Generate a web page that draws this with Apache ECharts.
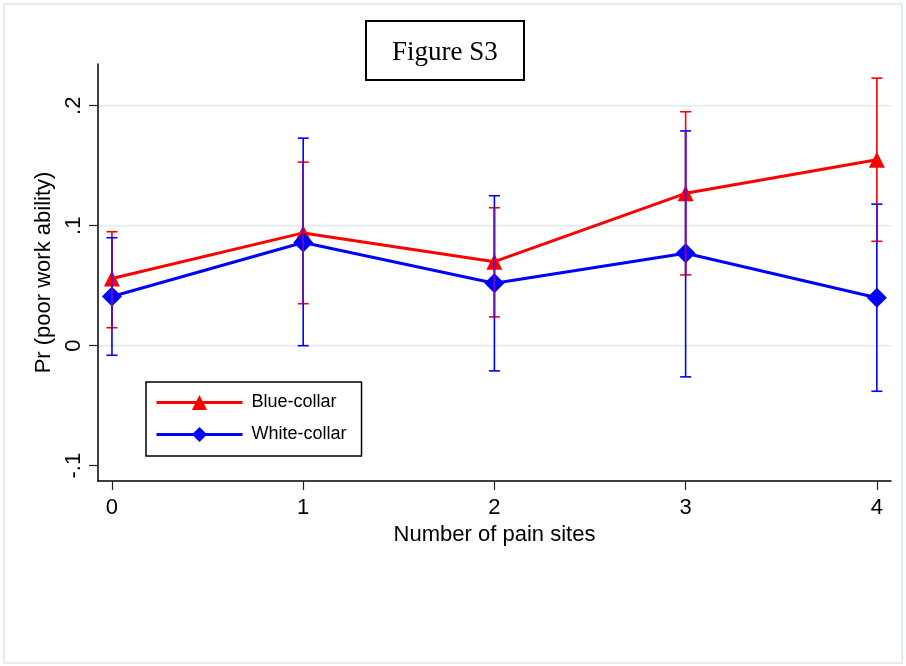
<!DOCTYPE html>
<html><head><meta charset="utf-8">
<script src="https://cdn.jsdelivr.net/npm/echarts@6/dist/echarts.min.js"></script>
<style>html,body{margin:0;padding:0;background:#fff}#chart{width:906px;height:666px}</style>
</head><body><div id="chart"></div>
<script>
// ---- data ----
const painSites = [0, 1, 2, 3, 4];
const xTicks = [0, 1, 2, 3, 4];
const yTicks = [-0.1, 0, 0.1, 0.2];
const yTickLabels = ['-.1', '0', '.1', '.2'];
const gridValues = [0, 0.1, 0.2];

const blueCollar   = [0.056, 0.094, 0.070, 0.127, 0.155];
const blueCollarLo = [0.015, 0.035, 0.024, 0.059, 0.087];
const blueCollarHi = [0.095, 0.153, 0.115, 0.195, 0.223];

const whiteCollar   = [0.041, 0.086, 0.052, 0.077, 0.040];
const whiteCollarLo = [-0.008, 0.000, -0.021, -0.026, -0.038];
const whiteCollarHi = [0.090, 0.173, 0.125, 0.179, 0.118];

const FONT = 'Liberation Sans';
const RED = '#ff0000', BLUE = '#0000ff', MIX = '#6a12b4';

function errRender(color, withOverlap) {
  return function (params, api) {
    const x = api.value(0), lo = api.value(1), hi = api.value(2);
    const a = api.coord([x, lo]), b = api.coord([x, hi]);
    const cap = 5.5;
    const st = { stroke: color, lineWidth: 1.6 };
    const ch = [
      { type: 'line', shape: { x1: a[0], y1: a[1], x2: b[0], y2: b[1] }, style: st },
      { type: 'line', shape: { x1: a[0] - cap, y1: a[1], x2: a[0] + cap, y2: a[1] }, style: st },
      { type: 'line', shape: { x1: b[0] - cap, y1: b[1], x2: b[0] + cap, y2: b[1] }, style: st }
    ];
    if (withOverlap) {
      const oLo = api.value(3), oHi = api.value(4);
      if (oHi > oLo) {
        const c = api.coord([x, oLo]), d = api.coord([x, oHi]);
        ch.push({ type: 'line', shape: { x1: c[0], y1: c[1], x2: d[0], y2: d[1] }, style: { stroke: MIX, lineWidth: 1.6 } });
      }
    }
    return { type: 'group', children: ch };
  };
}

const chart = echarts.init(document.getElementById('chart'));
chart.setOption({
  animation: false,
  backgroundColor: '#fff',
  graphic: [{
    type: 'rect', silent: true, z: -10,
    shape: { x: 4, y: 4, width: 898, height: 659 },
    style: { fill: null, stroke: '#e4ecef', lineWidth: 2 }
  }],
  title: {
    text: 'Figure S3', left: 366, top: 21,
    padding: [17, 26, 13, 26],
    borderColor: '#000', borderWidth: 2,
    textStyle: { fontFamily: 'Liberation Serif', fontSize: 27, fontWeight: 'normal', color: '#000', lineHeight: 29 }
  },
  legend: {
    data: ['Blue-collar', 'White-collar'],
    orient: 'vertical', left: 146, top: 382,
    padding: [11, 15, 12, 9],
    itemWidth: 86, itemHeight: 19, itemGap: 13,
    borderColor: '#000', borderWidth: 1.5,
    lineStyle: { width: 3 },
    textStyle: { fontFamily: FONT, fontSize: 18, color: '#000', lineHeight: 19, padding: [0, 0, 0, 4] }
  },
  grid: { left: 98, right: 15, top: 64, bottom: 185 },
  xAxis: {
    type: 'value', min: -0.073, max: 4.074,
    name: 'Number of pain sites', nameLocation: 'middle', nameGap: 42,
    nameTextStyle: { fontFamily: FONT, fontSize: 22, color: '#000' },
    axisLine: { show: true, onZero: false, lineStyle: { color: '#000', width: 1.5 } },
    axisTick: { show: true, length: 9, customValues: xTicks, lineStyle: { color: '#222', width: 1.2 } },
    axisLabel: { customValues: xTicks, fontFamily: FONT, fontSize: 22, color: '#000', margin: 16 },
    splitLine: { show: false }
  },
  yAxis: {
    type: 'value', min: -0.1128, max: 0.2348,
    name: 'Pr (poor work ability)', nameLocation: 'middle', nameGap: 40,
    nameTextStyle: { fontFamily: FONT, fontSize: 22, color: '#000' },
    axisLine: { show: true, onZero: false, lineStyle: { color: '#000', width: 1.5 } },
    axisTick: { show: true, length: 9, customValues: yTicks, lineStyle: { color: '#222', width: 1.2 } },
    axisLabel: {
      customValues: yTicks, rotate: 90, fontFamily: FONT, fontSize: 22, color: '#000', margin: 13,
      formatter: function (v) {
        const i = yTicks.findIndex(t => Math.abs(t - v) < 1e-9);
        return i >= 0 ? yTickLabels[i] : '';
      }
    },
    splitLine: { show: false }
  },
  series: [
    {
      type: 'custom', name: 'grid', silent: true, z: 0,
      encode: { x: 0, y: 1 },
      data: gridValues.map(v => [0, v]),
      renderItem: function (params, api) {
        const cs = params.coordSys;
        const y = api.coord([0, api.value(1)])[1];
        return { type: 'line', shape: { x1: cs.x, y1: y, x2: cs.x + cs.width, y2: y }, style: { stroke: '#e6eef0', lineWidth: 2 } };
      }
    },
    {
      type: 'line', name: 'Blue-collar', z: 3,
      data: painSites.map((x, i) => [x, blueCollar[i]]),
      symbol: 'triangle', symbolSize: 16,
      lineStyle: { color: RED, width: 3 }, itemStyle: { color: RED },
      emphasis: { disabled: true }
    },
    {
      type: 'line', name: 'White-collar', z: 4,
      data: painSites.map((x, i) => [x, whiteCollar[i]]),
      symbol: 'diamond', symbolSize: 20,
      lineStyle: { color: BLUE, width: 3 }, itemStyle: { color: BLUE },
      emphasis: { disabled: true }
    },
    {
      type: 'custom', name: 'Blue-collar CI', z: 5, silent: true,
      encode: { x: 0, y: [1, 2] },
      data: painSites.map((x, i) => [x, blueCollarLo[i], blueCollarHi[i]]),
      renderItem: errRender(RED, false)
    },
    {
      type: 'custom', name: 'White-collar CI', z: 6, silent: true,
      encode: { x: 0, y: [1, 2] },
      data: painSites.map((x, i) => [x, whiteCollarLo[i], whiteCollarHi[i],
        Math.max(whiteCollarLo[i], blueCollarLo[i]), Math.min(whiteCollarHi[i], blueCollarHi[i])]),
      renderItem: errRender(BLUE, true)
    }
  ]
});
</script></body></html>
